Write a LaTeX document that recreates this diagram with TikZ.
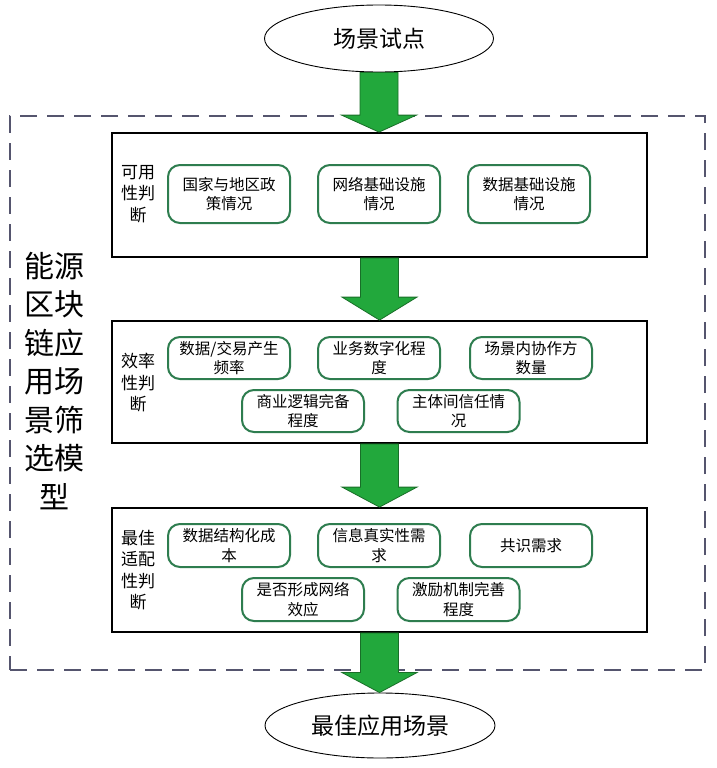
\documentclass[tikz,border=0pt]{standalone}
\usepackage{fontspec}
\newfontfamily\cjk{Noto Sans CJK SC}
\usetikzlibrary{shapes.geometric,calc}
\definecolor{gfill}{RGB}{34,168,60}
\definecolor{gedge}{RGB}{25,110,40}
\definecolor{rbox}{RGB}{46,125,79}
\definecolor{dashc}{RGB}{85,85,110}
\tikzset{
  endpt/.style={draw=black,line width=0.9pt,ellipse,minimum width=229pt,minimum height=67pt,inner sep=0pt,font=\cjk\fontsize{23}{26}\selectfont},
  stage/.style={draw=black,line width=1.8pt,minimum width=535pt,inner sep=0pt},
  item/.style={draw=rbox,line width=2pt,rounded corners=12pt,minimum width=122pt,inner sep=0pt,align=center,font=\cjk\fontsize{15.5}{19.5}\selectfont},
  itemA/.style={item,minimum height=58pt},
  itemB/.style={item,minimum height=42pt},
  side/.style={align=center,font=\cjk\fontsize{17}{21.5}\selectfont,inner sep=0pt},
  garrow/.style={fill=gfill,draw=gedge,line width=0.8pt,line join=miter}
}
\newcommand\greenarrow[3]{%
  \path[garrow] let \p1=(#1), \p2=(#2) in
    (\x1-19pt,\y1) -- (\x1+19pt,\y1) -- (\x1+19pt,\y2+#3) -- (\x1+37.5pt,\y2+#3)
    -- (\x1,\y2) -- (\x1-37.5pt,\y2+#3) -- (\x1-19pt,\y2+#3) -- cycle;}
\begin{document}
\begin{tikzpicture}[x=1pt,y=-1pt]
\useasboundingbox (0,0) rectangle (716,768);
% outer dashed region
\node[draw=dashc,line width=2pt,dash pattern=on 17pt off 10pt,minimum width=695pt,minimum height=554pt,inner sep=0pt] (outer) at (357.5,393) {};
% start / end
\node[endpt] (start) at (379,38.5) {场景试点};
\node[endpt,minimum width=230pt,minimum height=65pt] (finish) at (380,725.5) {最佳应用场景};
% stages
\node[stage,minimum height=124pt,fill=white] (s1) at (379.5,195) {};
\node[stage,minimum height=122pt,fill=white] (s2) at (379.5,382) {};
\node[stage,minimum height=124pt,fill=white] (s3) at (379.5,570) {};
% side labels
\node[side] (l1) at (138,194) {可用\\性判\\断};
\node[side] (l2) at (138,383) {效率\\性判\\断};
\node[side] (l3) at (138,570) {最佳\\适配\\性判\\断};
\node[align=center,inner sep=0pt,font=\cjk\fontsize{30}{38.5}\selectfont] (model) at (54,381) {能源\\区块\\链应\\用场\\景筛\\选模\\型};
% stage 1 items
\node[itemA] (a1) at (229,194) {国家与地区政\\策情况};
\node[itemA] (a2) at (379,194) {网络基础设施\\情况};
\node[itemA] (a3) at (529,194) {数据基础设施\\情况};
% stage 2 items
\node[itemB] (b1) at (229,358) {数据/交易产生\\频率};
\node[itemB] (b2) at (379,358) {业务数字化程\\度};
\node[itemB] (b3) at (531,358) {场景内协作方\\数量};
\node[itemB] (b4) at (303,411) {商业逻辑完备\\程度};
\node[itemB] (b5) at (458.5,411) {主体间信任情\\况};
% stage 3 items
\node[itemB,minimum height=43pt] (c1) at (229,545.5) {数据结构化成\\本};
\node[itemB,minimum height=43pt] (c2) at (379,545.5) {信息真实性需\\求};
\node[itemB,minimum height=43pt] (c3) at (531,545.5) {共识需求};
\node[itemB,minimum height=43pt] (c4) at (303,599.5) {是否形成网络\\效应};
\node[itemB,minimum height=43pt] (c5) at (458.5,599.5) {激励机制完善\\程度};
% arrows
\greenarrow{start.south}{s1.north}{17pt}
\greenarrow{s1.south}{s2.north}{23pt}
\greenarrow{s2.south}{s3.north}{20pt}
\greenarrow{s3.south}{finish.north}{20pt}
\end{tikzpicture}
\end{document}
